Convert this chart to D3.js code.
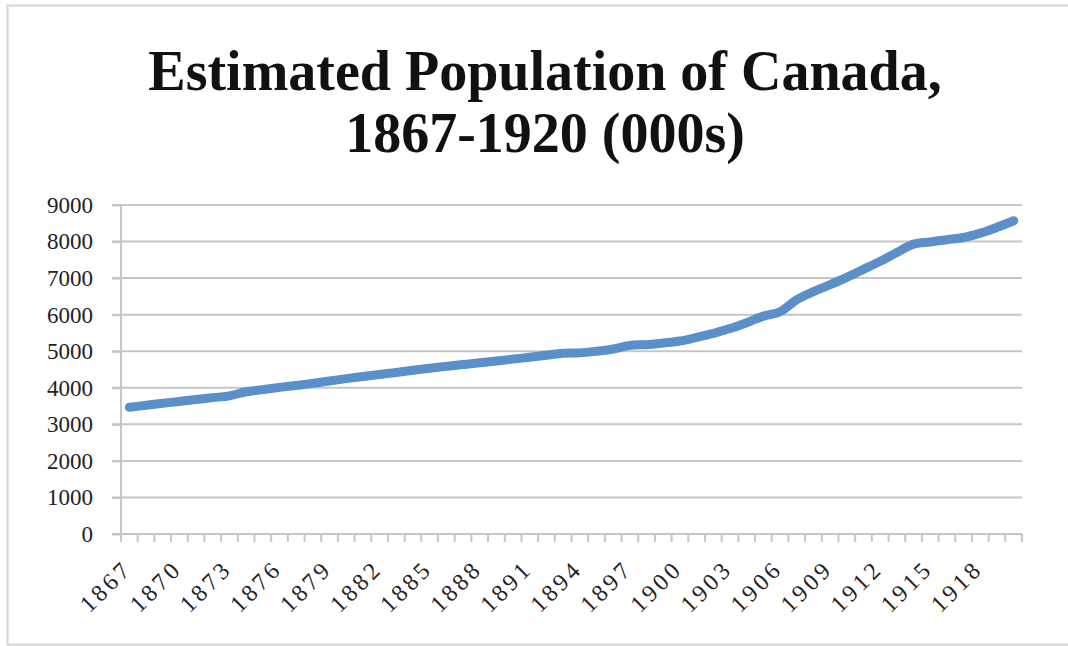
<!DOCTYPE html>
<html>
<head>
<meta charset="utf-8">
<script src="https://cdn.jsdelivr.net/npm/d3@7"></script>
<style>
  body { margin: 0; background: #fff; }
  svg { display: block; }
</style>
</head>
<body>
<svg id="chart"></svg>
<script>
const years = d3.range(1867, 1921);
const population = [
  3466, 3520, 3575, 3625, 3680, 3730, 3780, 3890, 3950, 4010,
  4065, 4120, 4185, 4250, 4310, 4365, 4420, 4480, 4535, 4585,
  4635, 4685, 4735, 4785, 4835, 4890, 4945, 4955, 5000, 5060,
  5160, 5180, 5225, 5280, 5380, 5490, 5620, 5780, 5960, 6080,
  6410, 6630, 6820, 7020, 7240, 7460, 7700, 7930, 7990, 8050,
  8110, 8230, 8390, 8570,
];
const yTicks = [0, 1000, 2000, 3000, 4000, 5000, 6000, 7000, 8000, 9000];
const labelYears = [1867, 1870, 1873, 1876, 1879, 1882, 1885, 1888, 1891, 1894,
  1897, 1900, 1903, 1906, 1909, 1912, 1915, 1918];
const titleLines = ['Estimated Population of Canada,', '1867-1920 (000s)'];

const colours = {
  line: '#5a8fc9',
  grid: '#c6c6c6',
  text: '#222',
  frame: '#d4d4d4',
};

const width = 1068;
const height = 646;
const plot = { left: 121, right: 1022, top: 205, bottom: 534 };
const font = '"Liberation Serif", serif';

const sel = d3.select('#chart').attr('width', width).attr('height', height);

// outer frame
sel.append('rect')
  .attr('x', 7.5).attr('y', 5.5)
  .attr('width', 1080).attr('height', 639)
  .attr('fill', 'none')
  .attr('stroke', colours.frame)
  .attr('stroke-width', 2);

// title
sel.append('g')
  .selectAll('text')
  .data(titleLines)
  .join('text')
  .attr('x', 545)
  .attr('y', (d, i) => 90 + i * 62)
  .attr('text-anchor', 'middle')
  .attr('font-family', font)
  .attr('font-weight', 'bold')
  .attr('font-size', 56)
  .attr('fill', '#111')
  .text(d => d);

const xScale = d3.scaleBand()
  .domain(years)
  .range([plot.left, plot.right]);
const yScale = d3.scaleLinear()
  .domain([0, 9000])
  .range([plot.bottom, plot.top]);
const xMid = d => xScale(d) + xScale.bandwidth() / 2;

// gridlines
sel.append('g')
  .selectAll('line')
  .data(yTicks.filter(d => d > 0))
  .join('line')
  .attr('x1', plot.left - 9)
  .attr('x2', plot.right)
  .attr('y1', d => yScale(d))
  .attr('y2', d => yScale(d))
  .attr('stroke', colours.grid)
  .attr('stroke-width', 2);

// y axis
const yAxis = sel.append('g')
  .attr('transform', `translate(${plot.left},0)`)
  .call(d3.axisLeft(yScale)
    .tickValues(yTicks)
    .tickFormat(d3.format('d'))
    .tickSize(9)
    .tickPadding(19));
yAxis.select('.domain').remove();
yAxis.selectAll('.tick line').attr('stroke', colours.grid).attr('stroke-width', 2);
yAxis.selectAll('.tick text')
  .attr('font-family', font)
  .attr('font-size', 23)
  .attr('fill', colours.text);
sel.append('line')
  .attr('x1', plot.left).attr('x2', plot.left)
  .attr('y1', plot.top).attr('y2', plot.bottom + 8)
  .attr('stroke', colours.grid)
  .attr('stroke-width', 2);

// x axis: ticks sit between categories
const edges = years.map(d => xScale(d)).concat([plot.right]);
sel.append('line')
  .attr('x1', plot.left - 9).attr('x2', plot.right)
  .attr('y1', plot.bottom).attr('y2', plot.bottom)
  .attr('stroke', colours.grid)
  .attr('stroke-width', 2);
sel.append('g')
  .selectAll('line')
  .data(edges)
  .join('line')
  .attr('x1', d => d).attr('x2', d => d)
  .attr('y1', plot.bottom).attr('y2', plot.bottom + 8)
  .attr('stroke', colours.grid)
  .attr('stroke-width', 2);

sel.append('g')
  .selectAll('text')
  .data(labelYears)
  .join('text')
  .attr('transform', d => `translate(${xMid(d) + 4},${plot.bottom + 36}) rotate(-45)`)
  .attr('text-anchor', 'end')
  .attr('font-family', font)
  .attr('font-size', 24)
  .attr('letter-spacing', 3.5)
  .attr('fill', colours.text)
  .text(d => d);

// the population line
const line = d3.line()
  .x((d, i) => xMid(years[i]))
  .y(d => yScale(d))
  .curve(d3.curveCatmullRom.alpha(0.5));

sel.append('path')
  .datum(population)
  .attr('d', line)
  .attr('fill', 'none')
  .attr('stroke', colours.line)
  .attr('stroke-width', 9)
  .attr('stroke-linecap', 'round')
  .attr('stroke-linejoin', 'round');
</script>
</body>
</html>
